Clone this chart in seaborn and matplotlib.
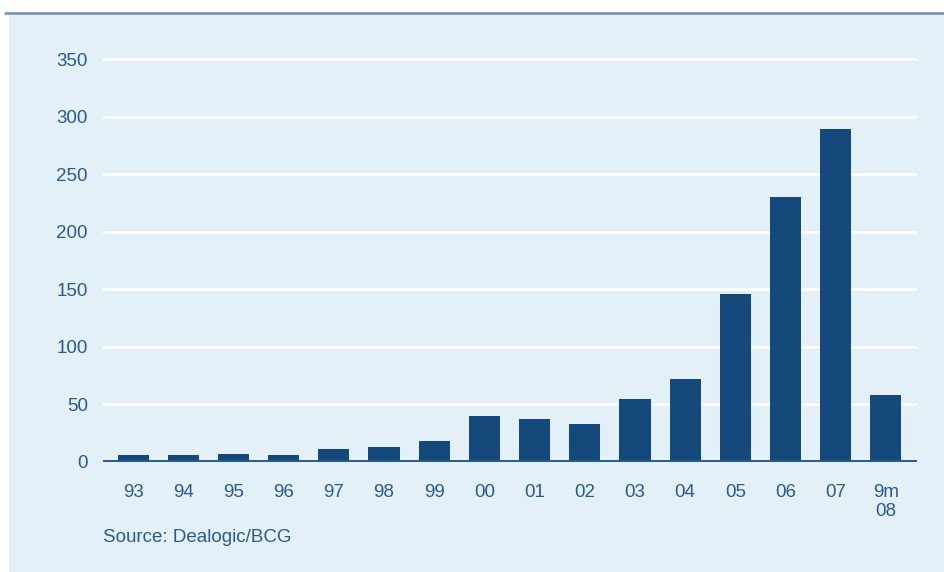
import matplotlib
matplotlib.use("Agg")
import matplotlib.pyplot as plt
import seaborn as sns
import pandas as pd
from matplotlib.patches import Rectangle
from matplotlib.lines import Line2D

categories = ["93", "94", "95", "96", "97", "98", "99", "00", "01", "02",
              "03", "04", "05", "06", "07", "9m\n08"]
values = [6, 6, 7, 6, 11, 13, 18, 40, 37, 33, 55, 72, 146, 230, 289, 58]
yticks = [0, 50, 100, 150, 200, 250, 300, 350]
source = "Source: Dealogic/BCG"

bg = "#e4f0f8"
bar_color = "#15497c"
text_color = "#2a5a8c"

sns.set_theme(style="white")
plt.rcParams['font.family'] = ['Liberation Sans', 'DejaVu Sans']

W, H = 945, 572
fig = plt.figure(figsize=(W / 100, H / 100), dpi=100)
fig.patch.set_facecolor("white")
fig.patches.append(Rectangle((9 / W, 0), 1 - 9 / W, 1 - 13 / H,
                             transform=fig.transFigure, facecolor=bg,
                             edgecolor="none", zorder=-10))
fig.lines.append(Line2D([5 / W, 1], [1 - 13 / H, 1 - 13 / H],
                        transform=fig.transFigure, color="#6d91b2", lw=1.8,
                        zorder=-5))

px_per_unit = (462 - 59) / 350.0
ytop = 352
left, right = 103, 917
bottom_px = 462
top_px = bottom_px - ytop * px_per_unit
ax = fig.add_axes([left / W, 1 - bottom_px / H, (right - left) / W,
                   (bottom_px - top_px) / H])
ax.set_zorder(1)
ax.set_facecolor("none")

df = pd.DataFrame({"cat": categories, "val": values})
sns.barplot(data=df, x="cat", y="val", color=bar_color, saturation=1,
            width=0.62, ax=ax, zorder=3, linewidth=0, edgecolor="none")

ax.set_xlim(-0.6, len(categories) - 1 + 0.62)
ax.set_ylim(0, ytop)
ax.set_yticks(yticks)
ax.set_yticklabels([str(t) for t in yticks])
ax.grid(axis="y", color="white", lw=2.2, zorder=1)
ax.set_axisbelow(True)
ax.axhline(0, color="#285a8e", lw=2.8, zorder=4)
for s in ax.spines.values():
    s.set_visible(False)
fs = 13.5
ax.tick_params(axis="y", length=0, pad=11, labelsize=fs, labelcolor=text_color)
ax.tick_params(axis="x", length=0, pad=15.5, labelsize=fs, labelcolor=text_color)
for lbl in ax.get_xticklabels():
    lbl.set_linespacing(1.2)
    lbl.set_verticalalignment("top")
ax.set_xlabel("")
ax.set_ylabel("")

fig.text(103 / W, 1 - 537 / H, source, ha="left", va="center",
         fontsize=fs, color=text_color)

fig.savefig("out.png", dpi=100, facecolor=fig.get_facecolor())
